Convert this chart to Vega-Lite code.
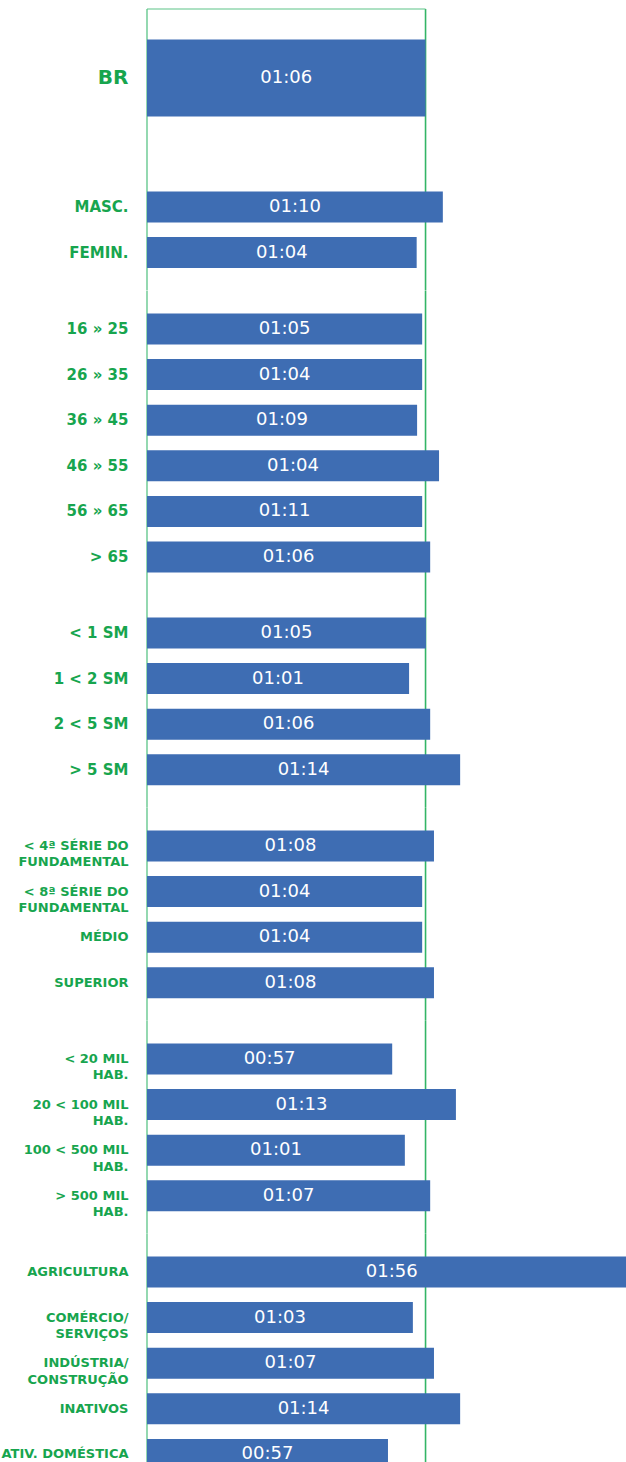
{
  "$schema": "https://vega.github.io/schema/vega-lite/v6.json",
  "padding": {"left": 0, "top": 8, "right": 0, "bottom": 0},
  "spacing": 0,
  "bounds": "flush",
  "datasets": {
    "rows": [
      {"g": "br", "c": "BR", "v": 66, "t": "01:06"},
      {"g": "sexo", "c": "MASC.", "v": 70.1, "t": "01:10"},
      {"g": "sexo", "c": "FEMIN.", "v": 63.9, "t": "01:04"},
      {"g": "idade", "c": "16 » 25", "v": 65.2, "t": "01:05"},
      {"g": "idade", "c": "26 » 35", "v": 65.2, "t": "01:04"},
      {"g": "idade", "c": "36 » 45", "v": 64.0, "t": "01:09"},
      {"g": "idade", "c": "46 » 55", "v": 69.2, "t": "01:04"},
      {"g": "idade", "c": "56 » 65", "v": 65.2, "t": "01:11"},
      {"g": "idade", "c": "> 65", "v": 67.1, "t": "01:06"},
      {"g": "renda", "c": "< 1 SM", "v": 66.1, "t": "01:05"},
      {"g": "renda", "c": "1 < 2 SM", "v": 62.1, "t": "01:01"},
      {"g": "renda", "c": "2 < 5 SM", "v": 67.1, "t": "01:06"},
      {"g": "renda", "c": "> 5 SM", "v": 74.2, "t": "01:14"},
      {"g": "escol", "c": "< 4ª SÉRIE DO|FUNDAMENTAL", "v": 68.0, "t": "01:08"},
      {"g": "escol", "c": "< 8ª SÉRIE DO|FUNDAMENTAL", "v": 65.2, "t": "01:04"},
      {"g": "escol", "c": "MÉDIO", "v": 65.2, "t": "01:04"},
      {"g": "escol", "c": "SUPERIOR", "v": 68.0, "t": "01:08"},
      {"g": "cidade", "c": "< 20 MIL|HAB.", "v": 58.1, "t": "00:57"},
      {"g": "cidade", "c": "20 < 100 MIL|HAB.", "v": 73.2, "t": "01:13"},
      {"g": "cidade", "c": "100 < 500 MIL|HAB.", "v": 61.1, "t": "01:01"},
      {"g": "cidade", "c": "> 500 MIL|HAB.", "v": 67.1, "t": "01:07"},
      {"g": "ocup", "c": "AGRICULTURA", "v": 116, "t": "01:56"},
      {"g": "ocup", "c": "COMÉRCIO/|SERVIÇOS", "v": 63.0, "t": "01:03"},
      {"g": "ocup", "c": "INDÚSTRIA/|CONSTRUÇÃO", "v": 68.0, "t": "01:07"},
      {"g": "ocup", "c": "INATIVOS", "v": 74.2, "t": "01:14"},
      {"g": "ocup", "c": "ATIV. DOMÉSTICA", "v": 57.1, "t": "00:57"}
    ]
  },
  "vconcat": [
    {
      "width": 479, "height": 138,
      "data": {"name": "rows"},
      "transform": [{"filter": "datum.g == 'br'"}],
      "layer": [
        {"data": {"values": [{}]}, "mark": {"type": "rule", "stroke": "#4cbf7c", "strokeWidth": 1.2},
         "encoding": {"x": {"datum": 0, "type": "quantitative", "scale": {"domain": [0, 113.5], "nice": false}, "axis": null}}},
        {"data": {"values": [{}]}, "mark": {"type": "rule", "stroke": "#33b566", "strokeWidth": 1.6},
         "encoding": {"x": {"datum": 66, "type": "quantitative", "scale": {"domain": [0, 113.5], "nice": false}, "axis": null}}},
        {"mark": {"type": "rule", "stroke": "#5cc487", "strokeWidth": 1.2},
         "encoding": {
           "y": {"field": "c", "type": "nominal", "sort": null, "bandPosition": 0},
           "x": {"datum": 0, "type": "quantitative", "scale": {"domain": [0, 113.5], "nice": false}, "axis": null},
           "x2": {"datum": 66}}},
        {"mark": {"type": "bar", "height": 77, "color": "#3e6db3", "clip": true},
         "encoding": {
           "y": {"field": "c", "type": "nominal", "sort": null, "scale": {"paddingInner": 0, "paddingOuter": 0}, "axis": {"title": null, "labelFontSize": 20}},
           "x": {"field": "v", "type": "quantitative", "scale": {"domain": [0, 113.5], "nice": false}, "axis": null}}},
        {"mark": {"type": "text", "color": "white", "font": "DejaVu Sans", "fontSize": 18, "align": "center", "baseline": "middle", "clip": true},
         "encoding": {
           "y": {"field": "c", "type": "nominal", "sort": null},
           "x": {"field": "v", "type": "quantitative", "scale": {"domain": [0, 227], "nice": false}, "axis": null},
           "text": {"field": "t"}}}
      ],
      "resolve": {"scale": {"x": "independent"}}
    },
    {
      "width": 479, "height": 143.6,
      "data": {"name": "rows"},
      "transform": [{"filter": "datum.g == 'sexo'"}],
      "layer": [
        {"data": {"values": [{}]}, "mark": {"type": "rule", "stroke": "#4cbf7c", "strokeWidth": 1.2},
         "encoding": {"x": {"datum": 0, "type": "quantitative", "scale": {"domain": [0, 113.5], "nice": false}, "axis": null}}},
        {"data": {"values": [{}]}, "mark": {"type": "rule", "stroke": "#33b566", "strokeWidth": 1.6},
         "encoding": {"x": {"datum": 66, "type": "quantitative", "scale": {"domain": [0, 113.5], "nice": false}, "axis": null}}},
        {"mark": {"type": "bar", "height": 31, "color": "#3e6db3", "clip": true},
         "encoding": {
           "y": {"field": "c", "type": "nominal", "sort": null, "scale": {"paddingInner": 0, "paddingOuter": 0.5746, "align": 0.71}, "axis": {"title": null, "labelFontSize": 15}},
           "x": {"field": "v", "type": "quantitative", "scale": {"domain": [0, 113.5], "nice": false}, "axis": null}}},
        {"mark": {"type": "text", "color": "white", "font": "DejaVu Sans", "fontSize": 18, "align": "center", "baseline": "middle", "clip": true},
         "encoding": {
           "y": {"field": "c", "type": "nominal", "sort": null},
           "x": {"field": "v", "type": "quantitative", "scale": {"domain": [0, 227], "nice": false}, "axis": null},
           "text": {"field": "t"}}}
      ],
      "resolve": {"scale": {"x": "independent"}}
    },
    {
      "width": 479, "height": 304,
      "data": {"name": "rows"},
      "transform": [{"filter": "datum.g == 'idade'"}],
      "layer": [
        {"data": {"values": [{}]}, "mark": {"type": "rule", "stroke": "#4cbf7c", "strokeWidth": 1.2},
         "encoding": {"x": {"datum": 0, "type": "quantitative", "scale": {"domain": [0, 113.5], "nice": false}, "axis": null}}},
        {"data": {"values": [{}]}, "mark": {"type": "rule", "stroke": "#33b566", "strokeWidth": 1.6},
         "encoding": {"x": {"datum": 66, "type": "quantitative", "scale": {"domain": [0, 113.5], "nice": false}, "axis": null}}},
        {"mark": {"type": "bar", "height": 31, "color": "#3e6db3", "clip": true},
         "encoding": {
           "y": {"field": "c", "type": "nominal", "sort": null, "scale": {"paddingInner": 0, "paddingOuter": 0.33333}, "axis": {"title": null, "labelFontSize": 15}},
           "x": {"field": "v", "type": "quantitative", "scale": {"domain": [0, 113.5], "nice": false}, "axis": null}}},
        {"mark": {"type": "text", "color": "white", "font": "DejaVu Sans", "fontSize": 18, "align": "center", "baseline": "middle", "clip": true},
         "encoding": {
           "y": {"field": "c", "type": "nominal", "sort": null},
           "x": {"field": "v", "type": "quantitative", "scale": {"domain": [0, 227], "nice": false}, "axis": null},
           "text": {"field": "t"}}}
      ],
      "resolve": {"scale": {"x": "independent"}}
    },
    {
      "width": 479, "height": 212.8,
      "data": {"name": "rows"},
      "transform": [{"filter": "datum.g == 'renda'"}],
      "layer": [
        {"data": {"values": [{}]}, "mark": {"type": "rule", "stroke": "#4cbf7c", "strokeWidth": 1.2},
         "encoding": {"x": {"datum": 0, "type": "quantitative", "scale": {"domain": [0, 113.5], "nice": false}, "axis": null}}},
        {"data": {"values": [{}]}, "mark": {"type": "rule", "stroke": "#33b566", "strokeWidth": 1.6},
         "encoding": {"x": {"datum": 66, "type": "quantitative", "scale": {"domain": [0, 113.5], "nice": false}, "axis": null}}},
        {"mark": {"type": "bar", "height": 31, "color": "#3e6db3", "clip": true},
         "encoding": {
           "y": {"field": "c", "type": "nominal", "sort": null, "scale": {"paddingInner": 0, "paddingOuter": 0.33333}, "axis": {"title": null, "labelFontSize": 15}},
           "x": {"field": "v", "type": "quantitative", "scale": {"domain": [0, 113.5], "nice": false}, "axis": null}}},
        {"mark": {"type": "text", "color": "white", "font": "DejaVu Sans", "fontSize": 18, "align": "center", "baseline": "middle", "clip": true},
         "encoding": {
           "y": {"field": "c", "type": "nominal", "sort": null},
           "x": {"field": "v", "type": "quantitative", "scale": {"domain": [0, 227], "nice": false}, "axis": null},
           "text": {"field": "t"}}}
      ],
      "resolve": {"scale": {"x": "independent"}}
    },
    {
      "width": 479, "height": 212.8,
      "data": {"name": "rows"},
      "transform": [{"filter": "datum.g == 'escol'"}],
      "layer": [
        {"data": {"values": [{}]}, "mark": {"type": "rule", "stroke": "#4cbf7c", "strokeWidth": 1.2},
         "encoding": {"x": {"datum": 0, "type": "quantitative", "scale": {"domain": [0, 113.5], "nice": false}, "axis": null}}},
        {"data": {"values": [{}]}, "mark": {"type": "rule", "stroke": "#33b566", "strokeWidth": 1.6},
         "encoding": {"x": {"datum": 66, "type": "quantitative", "scale": {"domain": [0, 113.5], "nice": false}, "axis": null}}},
        {"mark": {"type": "bar", "height": 31, "color": "#3e6db3", "clip": true},
         "encoding": {
           "y": {"field": "c", "type": "nominal", "sort": null, "scale": {"paddingInner": 0, "paddingOuter": 0.33333}, "axis": {"title": null, "labelFontSize": 13, "labelExpr": "split(datum.label, '|')"}},
           "x": {"field": "v", "type": "quantitative", "scale": {"domain": [0, 113.5], "nice": false}, "axis": null}}},
        {"mark": {"type": "text", "color": "white", "font": "DejaVu Sans", "fontSize": 18, "align": "center", "baseline": "middle", "clip": true},
         "encoding": {
           "y": {"field": "c", "type": "nominal", "sort": null},
           "x": {"field": "v", "type": "quantitative", "scale": {"domain": [0, 227], "nice": false}, "axis": null},
           "text": {"field": "t"}}}
      ],
      "resolve": {"scale": {"x": "independent"}}
    },
    {
      "width": 479, "height": 212.8,
      "data": {"name": "rows"},
      "transform": [{"filter": "datum.g == 'cidade'"}],
      "layer": [
        {"data": {"values": [{}]}, "mark": {"type": "rule", "stroke": "#4cbf7c", "strokeWidth": 1.2},
         "encoding": {"x": {"datum": 0, "type": "quantitative", "scale": {"domain": [0, 113.5], "nice": false}, "axis": null}}},
        {"data": {"values": [{}]}, "mark": {"type": "rule", "stroke": "#33b566", "strokeWidth": 1.6},
         "encoding": {"x": {"datum": 66, "type": "quantitative", "scale": {"domain": [0, 113.5], "nice": false}, "axis": null}}},
        {"mark": {"type": "bar", "height": 31, "color": "#3e6db3", "clip": true},
         "encoding": {
           "y": {"field": "c", "type": "nominal", "sort": null, "scale": {"paddingInner": 0, "paddingOuter": 0.33333}, "axis": {"title": null, "labelFontSize": 13, "labelExpr": "split(datum.label, '|')"}},
           "x": {"field": "v", "type": "quantitative", "scale": {"domain": [0, 113.5], "nice": false}, "axis": null}}},
        {"mark": {"type": "text", "color": "white", "font": "DejaVu Sans", "fontSize": 18, "align": "center", "baseline": "middle", "clip": true},
         "encoding": {
           "y": {"field": "c", "type": "nominal", "sort": null},
           "x": {"field": "v", "type": "quantitative", "scale": {"domain": [0, 227], "nice": false}, "axis": null},
           "text": {"field": "t"}}}
      ],
      "resolve": {"scale": {"x": "independent"}}
    },
    {
      "width": 479, "height": 229.5,
      "data": {"name": "rows"},
      "transform": [{"filter": "datum.g == 'ocup'"}],
      "layer": [
        {"data": {"values": [{}]}, "mark": {"type": "rule", "stroke": "#4cbf7c", "strokeWidth": 1.2},
         "encoding": {"x": {"datum": 0, "type": "quantitative", "scale": {"domain": [0, 113.5], "nice": false}, "axis": null}}},
        {"data": {"values": [{}]}, "mark": {"type": "rule", "stroke": "#33b566", "strokeWidth": 1.6},
         "encoding": {"x": {"datum": 66, "type": "quantitative", "scale": {"domain": [0, 113.5], "nice": false}, "axis": null}}},
        {"mark": {"type": "bar", "height": 31, "color": "#3e6db3", "clip": true},
         "encoding": {
           "y": {"field": "c", "type": "nominal", "sort": null, "scale": {"paddingInner": 0, "paddingOuter": 0.33333, "range": [0, 258.4]}, "axis": {"title": null, "labelFontSize": 13, "labelExpr": "split(datum.label, '|')"}},
           "x": {"field": "v", "type": "quantitative", "scale": {"domain": [0, 113.5], "nice": false}, "axis": null}}},
        {"mark": {"type": "text", "color": "white", "font": "DejaVu Sans", "fontSize": 18, "align": "center", "baseline": "middle", "clip": true},
         "encoding": {
           "y": {"field": "c", "type": "nominal", "sort": null},
           "x": {"field": "v", "type": "quantitative", "scale": {"domain": [0, 227], "nice": false}, "axis": null},
           "text": {"field": "t"}}}
      ],
      "resolve": {"scale": {"x": "independent"}}
    }
  ],
  "config": {
    "view": {"stroke": null},
    "axisY": {
      "labelColor": "#17a54e",
      "labelFont": "DejaVu Sans",
      "labelFontWeight": "bold",
      "ticks": false,
      "domain": false,
      "grid": false,
      "labelPadding": 19,
      "minExtent": 147,
      "maxExtent": 147,
      "labelLineHeight": 16.5,
      "labelLimit": 0
    }
  }
}
